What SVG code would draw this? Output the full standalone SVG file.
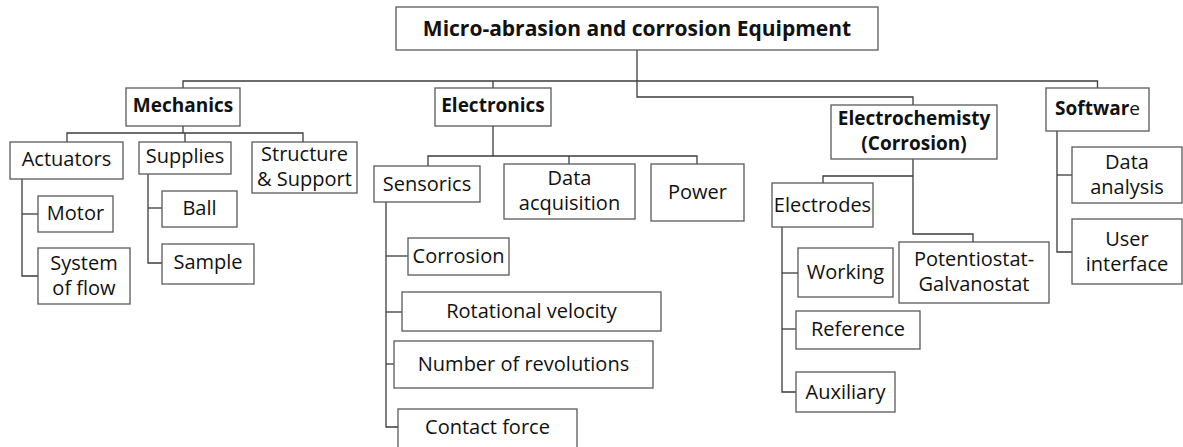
<svg xmlns="http://www.w3.org/2000/svg" width="1183" height="447" viewBox="0 0 1183 447">
<style>
  .box { fill: #ffffff; stroke: #5a5a5a; stroke-width: 1.3; }
  .t { font-family: "Open Sans", "Liberation Sans", sans-serif; font-size: 20px; fill: #111; text-anchor: middle; }
  .b { font-weight: bold; font-size: 19px; }
  .title { font-size: 21px; }
  .conn path { fill: none; stroke: #3c3c3c; stroke-width: 1.3; }
</style>
<rect width="1183" height="447" fill="#ffffff"/>
<g id="connectors" class="conn">
  <path d="M637,50 V97 H913 V105"/>
  <path d="M183,88 V81 H1097.5 V88"/>
  <path d="M493,81 V88"/>
  <path d="M183,126 V133"/>
  <path d="M67,142 V133 H303 V142"/>
  <path d="M185,133 V142"/>
  <path d="M22,179 V276 H38"/>
  <path d="M22,214 H38"/>
  <path d="M148,174 V263 H162"/>
  <path d="M148,208 H162"/>
  <path d="M493,126 V156"/>
  <path d="M428,166 V156 H697 V164"/>
  <path d="M569,156 V164"/>
  <path d="M386,202 V427 H398"/>
  <path d="M386,256 H408"/>
  <path d="M386,312 H402"/>
  <path d="M386,364 H394"/>
  <path d="M913,159 V234 H973 V242"/>
  <path d="M823,183 V176 H913"/>
  <path d="M782,227 V392 H796"/>
  <path d="M782,273 H798"/>
  <path d="M782,329 H796"/>
  <path d="M1057,131 V252 H1072"/>
  <path d="M1057,175 H1072"/>
</g>
<g id="root">
  <rect class="box" x="396" y="7" width="482" height="43"/>
  <text class="t b title" x="637" y="36">Micro-abrasion and corrosion Equipment</text>
</g>
<g id="mechanics">
  <rect class="box" x="126" y="88" width="114" height="38"/>
  <text class="t b" x="183" y="112">Mechanics</text>
</g>
<g id="electronics">
  <rect class="box" x="435" y="88" width="116" height="38"/>
  <text class="t b" x="493" y="112">Electronics</text>
</g>
<g id="electrochemistry">
  <rect class="box" x="831" y="105" width="166" height="54"/>
  <text class="t b" x="914" y="125"><tspan x="914" y="125">Electrochemisty</tspan><tspan x="914" y="150">(Corrosion)</tspan></text>
</g>
<g id="software">
  <rect class="box" x="1046" y="88" width="103" height="43"/>
  <text class="t" x="1097.5" y="115"><tspan class="b" style="font-size:19px">Softwar</tspan><tspan style="font-size:19px">e</tspan></text>
</g>
<g id="actuators">
  <rect class="box" x="10" y="142" width="113" height="37"/>
  <text class="t" x="66.5" y="166">Actuators</text>
</g>
<g id="supplies">
  <rect class="box" x="139" y="142" width="92" height="32"/>
  <text class="t" x="185" y="163">Supplies</text>
</g>
<g id="structure">
  <rect class="box" x="252" y="142" width="105" height="51"/>
  <text class="t" x="304.5" y="161"><tspan x="304.5" y="161">Structure</tspan><tspan x="304.5" y="186">&amp; Support</tspan></text>
</g>
<g id="motor">
  <rect class="box" x="38" y="196" width="75" height="36"/>
  <text class="t" x="75.5" y="220">Motor</text>
</g>
<g id="system-of-flow">
  <rect class="box" x="38" y="248" width="92" height="56"/>
  <text class="t" x="84" y="270"><tspan x="84" y="270">System</tspan><tspan x="84" y="295">of flow</tspan></text>
</g>
<g id="ball">
  <rect class="box" x="162" y="191" width="75" height="36"/>
  <text class="t" x="199.5" y="215">Ball</text>
</g>
<g id="sample">
  <rect class="box" x="162" y="244" width="92" height="40"/>
  <text class="t" x="208" y="269">Sample</text>
</g>
<g id="sensorics">
  <rect class="box" x="374" y="166" width="106" height="36"/>
  <text class="t" x="427" y="191">Sensorics</text>
</g>
<g id="data-acquisition">
  <rect class="box" x="504" y="164" width="131" height="55"/>
  <text class="t" x="569.5" y="185"><tspan x="569.5" y="185">Data</tspan><tspan x="569.5" y="210">acquisition</tspan></text>
</g>
<g id="power">
  <rect class="box" x="651" y="164" width="93" height="57"/>
  <text class="t" x="697.5" y="199">Power</text>
</g>
<g id="corrosion">
  <rect class="box" x="408" y="238" width="101" height="37"/>
  <text class="t" x="458.5" y="263">Corrosion</text>
</g>
<g id="rotational-velocity">
  <rect class="box" x="402" y="292" width="259" height="39"/>
  <text class="t" x="531.5" y="318">Rotational velocity</text>
</g>
<g id="number-of-revolutions">
  <rect class="box" x="394" y="341" width="259" height="47"/>
  <text class="t" x="523.5" y="371">Number of revolutions</text>
</g>
<g id="contact-force">
  <rect class="box" x="398" y="409" width="179" height="42"/>
  <text class="t" x="487.5" y="434">Contact force</text>
</g>
<g id="electrodes">
  <rect class="box" x="772" y="183" width="101" height="44"/>
  <text class="t" x="822.5" y="212">Electrodes</text>
</g>
<g id="working">
  <rect class="box" x="798" y="248" width="95" height="49"/>
  <text class="t" x="845.5" y="279">Working</text>
</g>
<g id="potentiostat">
  <rect class="box" x="899" y="242" width="150" height="61"/>
  <text class="t" x="974" y="266"><tspan x="974" y="266">Potentiostat-</tspan><tspan x="974" y="291">Galvanostat</tspan></text>
</g>
<g id="reference">
  <rect class="box" x="796" y="311" width="124" height="38"/>
  <text class="t" x="858" y="336">Reference</text>
</g>
<g id="auxiliary">
  <rect class="box" x="796" y="372" width="99" height="40"/>
  <text class="t" x="845.5" y="399">Auxiliary</text>
</g>
<g id="data-analysis">
  <rect class="box" x="1072" y="147" width="110" height="56"/>
  <text class="t" x="1127" y="169"><tspan x="1127" y="169">Data</tspan><tspan x="1127" y="194">analysis</tspan></text>
</g>
<g id="user-interface">
  <rect class="box" x="1072" y="219" width="110" height="65"/>
  <text class="t" x="1127" y="246"><tspan x="1127" y="246">User</tspan><tspan x="1127" y="271">interface</tspan></text>
</g>
</svg>
